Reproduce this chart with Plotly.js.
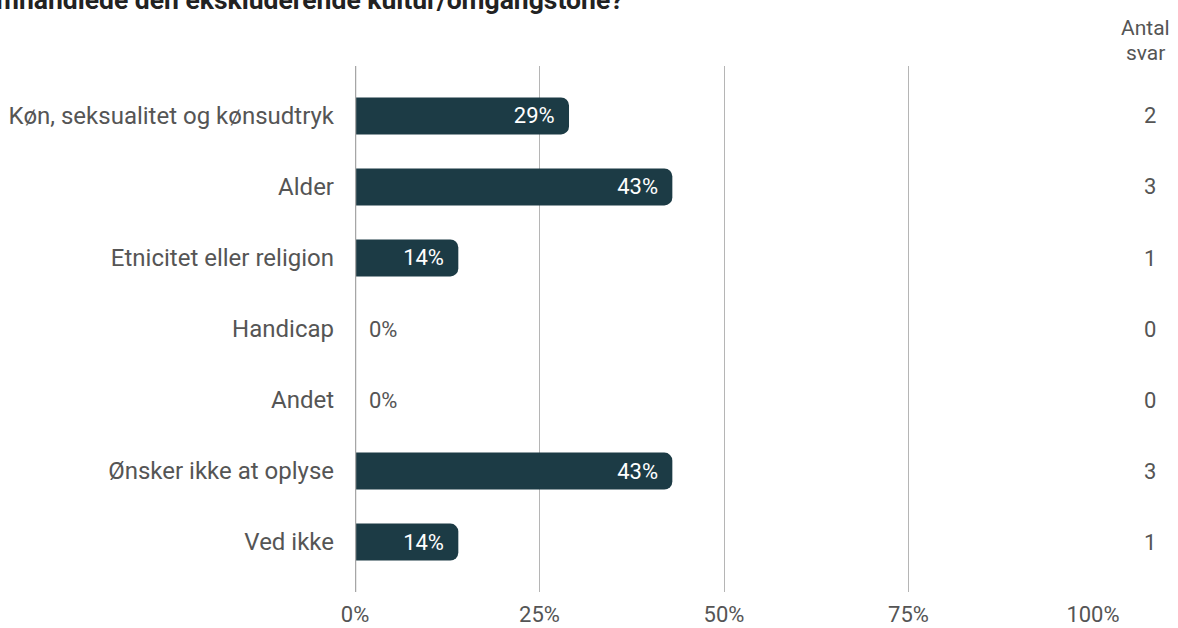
<!DOCTYPE html>
<html>
<head>
<meta charset="utf-8">
<script src="https://cdn.plot.ly/plotly-3.0.1.min.js"></script>
<style>
html,body{margin:0;padding:0;background:#fff;}
#chart{width:1178px;height:628px;}
</style>
</head>
<body>
<div id="chart"></div>
<script>
const categories = ["Køn, seksualitet og kønsudtryk","Alder","Etnicitet eller religion","Handicap","Andet","Ønsker ikke at oplyse","Ved ikke"];
const shares = [0.29, 0.43, 0.14, 0, 0, 0.43, 0.14];
const counts = [2, 3, 1, 0, 0, 3, 1];
const shareLabels = ["29%","43%","14%","0%","0%","43%","14%"];
const xTickVals = [0, 0.25, 0.5, 0.75, 1];
const xTickText = ["0%","25%","50%","75%","100%"];
const titleText = "omhandlede den ekskluderende kultur/omgangstone?";
const countHeader = ["Antal", "svar"];

const FONT = "Roboto, 'Noto Sans', sans-serif";
const GREY = "#555555";
const FS = 22;

const barTrace = {
  type: "bar",
  orientation: "h",
  y: categories,
  x: shares,
  marker: {color: "#1c3b45", cornerradius: 8},
  width: 0.52,
  text: shareLabels.map((t, i) => shares[i] > 0 ? t + "\u00A0\u00A0" : "\u00A0\u00A0" + t),
  textposition: shares.map(v => v > 0 ? "inside" : "outside"),
  insidetextanchor: "end",
  insidetextfont: {color: "#ffffff", size: FS, family: FONT},
  outsidetextfont: {color: GREY, size: FS, family: FONT},
  textangle: 0,
  constraintext: "none",
  cliponaxis: false,
  hoverinfo: "skip"
};

const annotations = categories.map((c, i) => ({
  xref: "paper", yref: "y",
  x: (1150 - 355) / 738, y: c,
  text: String(counts[i]),
  showarrow: false,
  xanchor: "center", yanchor: "middle",
  font: {family: FONT, size: FS, color: GREY}
}));
countHeader.forEach((t, k) => {
  annotations.push({
    xref: "paper", yref: "paper",
    x: (1145 - 355) / 738, y: 1 + (66 - (28 + 25 * k)) / 526,
    text: t,
    showarrow: false,
    xanchor: "center", yanchor: "middle",
    font: {family: FONT, size: 21, color: GREY}
  });
});
annotations.push({
  xref: "paper", yref: "paper",
  x: (-20 - 355) / 738, y: 1 + (66 - 16) / 526,
  text: "<b>" + titleText + "</b>",
  showarrow: false,
  xanchor: "left", yanchor: "bottom",
  borderpad: 0,
  font: {family: FONT, size: 26.5, color: "#222222"}
});

const layout = {
  width: 1178, height: 628,
  margin: {l: 355, r: 85, t: 66, b: 36},
  paper_bgcolor: "#ffffff",
  plot_bgcolor: "#ffffff",
  showlegend: false,
  xaxis: {
    range: [0, 1],
    tickvals: xTickVals,
    ticktext: xTickText,
    showgrid: true,
    gridcolor: "#b5b5b5",
    gridwidth: 1,
    zeroline: false,
    showline: false,
    ticks: "",
    ticklabelstandoff: 7,
    tickfont: {family: FONT, size: FS, color: GREY},
    fixedrange: true
  },
  yaxis: {
    type: "category",
    range: [6.704, -0.704],
    showgrid: false,
    zeroline: false,
    showline: false,
    ticks: "",
    ticklabelstandoff: 20,
    tickfont: {family: FONT, size: 24, color: GREY},
    fixedrange: true
  },
  shapes: [{
    type: "line", xref: "x", yref: "paper",
    x0: 0, x1: 0, y0: 0, y1: 1,
    line: {color: "#a6a6a6", width: 2.5},
    layer: "above"
  }],
  annotations: annotations
};

Plotly.newPlot("chart", [barTrace], layout, {displayModeBar: false, staticPlot: true});
</script>
</body>
</html>
